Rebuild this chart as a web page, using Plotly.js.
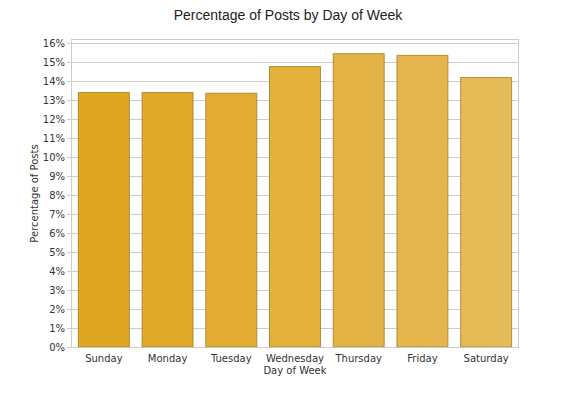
<!DOCTYPE html>
<html>
<head>
<meta charset="utf-8">
<script src="https://cdn.plot.ly/plotly-3.0.1.min.js"></script>
<style>html,body{margin:0;padding:0;background:#fff;}#chart{width:576px;height:396px;}</style>
</head>
<body>
<div id="chart"></div>
<script>
const days = ["Sunday","Monday","Tuesday","Wednesday","Thursday","Friday","Saturday"];
const percentages = [13.43, 13.43, 13.39, 14.80, 15.48, 15.39, 14.22];
const barColors = ["#DFA621","#E0A929","#E2AD32","#E2B03B","#E3B244","#E4B64D","#E5BB58"];
const tickVals = [0,1,2,3,4,5,6,7,8,9,10,11,12,13,14,15,16];
const tickLabels = tickVals.map(v => v + "%");

const trace = {
  type: "bar",
  x: days,
  y: percentages,
  marker: {color: barColors, line: {color: "rgba(165,130,40,0.85)", width: 1}},
  hoverinfo: "skip"
};
const layout = {
  width: 576, height: 396,
  margin: {l: 72, r: 58, t: 40, b: 49},
  paper_bgcolor: "#fff", plot_bgcolor: "#fff",
  bargap: 0.2,
  title: {text: "Percentage of Posts by Day of Week", font: {family: "Liberation Sans, Arial", size: 14, color: "#222"}, x: 0.5, xanchor: "center", y: 0.975, yanchor: "top"},
  xaxis: {
    title: {text: "Day of Week", font: {family: "DejaVu Sans", size: 10, color: "#333"}, standoff: 3},
    tickfont: {family: "DejaVu Sans", size: 10, color: "#333"},
    showgrid: false, showline: true, linecolor: "#ccc", mirror: true, ticks: "", ticklen: 0,
    ticklabelstandoff: 2
  },
  yaxis: {
    title: {text: "Percentage of Posts", font: {family: "DejaVu Sans", size: 10, color: "#333"}, standoff: 2},
    tickfont: {family: "DejaVu Sans", size: 10, color: "#333"},
    range: [0, 16.2], tickvals: tickVals, ticktext: tickLabels,
    showgrid: true, gridcolor: "#cccccc", gridwidth: 1,
    showline: true, linecolor: "#ccc", mirror: true, zeroline: false,
    ticks: "outside", ticklen: 4, tickcolor: "#ccc"
  },
  showlegend: false
};
Plotly.newPlot("chart", [trace], layout, {staticPlot: true, displayModeBar: false});
</script>
</body>
</html>
